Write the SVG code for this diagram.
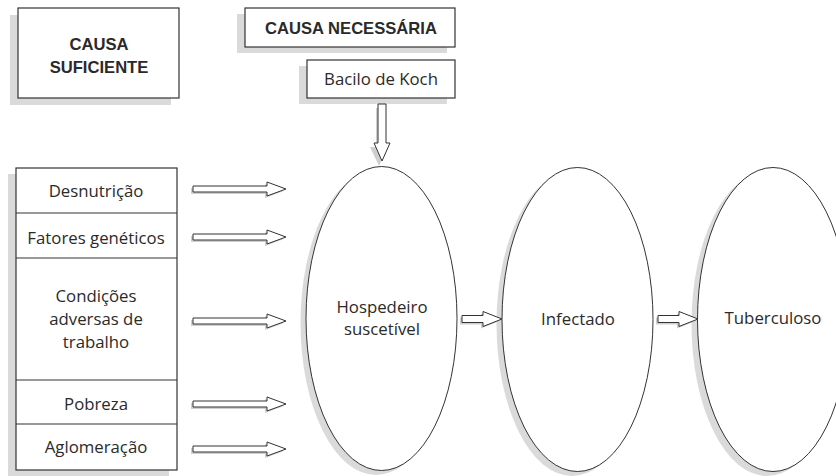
<svg xmlns="http://www.w3.org/2000/svg" xmlns:xlink="http://www.w3.org/1999/xlink" width="836" height="476" viewBox="0 0 836 476">
<style>
.box{fill:#fff;stroke:#333;stroke-width:1.2}
.el{fill:#fff;stroke:#333;stroke-width:1}
.sh{fill:#dadada;stroke:none}
.t{font-family:"Open Sans","Liberation Sans",sans-serif;font-size:16.8px;fill:#2a2a2a;text-anchor:middle}
.b{font-family:"Liberation Sans",Arial,sans-serif;font-size:16.6px;font-weight:bold;fill:#2a2a2a;text-anchor:middle}
.arr{fill:#fff;stroke:#333;stroke-width:1}
.ash{fill:#cfcfcf;stroke:none}
</style>
<defs>
<polygon id="ra" points="0,-3 74,-3 74,-7 93,0 74,7 74,3 0,3"/>
<polygon id="sa" points="0,-3.5 21,-3.5 21,-7.5 40,0 21,7.5 21,3.5 0,3.5"/>
</defs>
<rect width="836" height="476" fill="#fff"/>

<g id="causa-suficiente">
<rect class="sh" x="10" y="15" width="161" height="90"/>
<rect class="box" x="18" y="8" width="161" height="90"/>
<text class="b" x="99" y="50">CAUSA</text>
<text class="b" x="99" y="73">SUFICIENTE</text>
</g>

<g id="causa-necessaria">
<rect class="sh" x="237" y="14" width="210" height="39"/>
<rect class="box" x="245" y="8" width="210" height="39"/>
<text class="b" x="351" y="34">CAUSA NECESSÁRIA</text>
</g>

<g id="bacilo">
<rect class="sh" x="299" y="66" width="148" height="38"/>
<rect class="box" x="307" y="60" width="148" height="38"/>
<text class="t" x="381" y="85">Bacilo de Koch</text>
</g>

<g id="fatores">
<rect class="sh" x="8" y="174" width="161" height="302"/>
<rect class="box" x="16" y="168" width="161" height="302"/>
<line x1="16" y1="213" x2="177" y2="213" stroke="#333" stroke-width="1.2"/>
<line x1="16" y1="258" x2="177" y2="258" stroke="#333" stroke-width="1.2"/>
<line x1="16" y1="380" x2="177" y2="380" stroke="#333" stroke-width="1.2"/>
<line x1="16" y1="424" x2="177" y2="424" stroke="#333" stroke-width="1.2"/>
<text class="t" x="96" y="197">Desnutrição</text>
<text class="t" x="96" y="244">Fatores genéticos</text>
<text class="t" x="96" y="302">Condições</text>
<text class="t" x="96" y="325">adversas de</text>
<text class="t" x="96" y="348">trabalho</text>
<text class="t" x="96" y="410">Pobreza</text>
<text class="t" x="96" y="453">Aglomeração</text>
</g>

<g id="hospedeiro">
<ellipse class="sh" cx="376" cy="323" rx="75.5" ry="152"/>
<ellipse class="el" cx="381.5" cy="318.5" rx="75.5" ry="152"/>
<text class="t" x="382" y="313">Hospedeiro</text>
<text class="t" x="382" y="335">suscetível</text>
</g>

<g id="infectado">
<ellipse class="sh" cx="572" cy="324" rx="75.5" ry="152"/>
<ellipse class="el" cx="577.5" cy="319.5" rx="75.5" ry="152"/>
<text class="t" x="578" y="325">Infectado</text>
</g>

<g id="tuberculoso">
<ellipse class="sh" cx="767" cy="324" rx="75.5" ry="152"/>
<ellipse class="el" cx="773" cy="319.5" rx="75.5" ry="152"/>
<text class="t" x="773" y="324">Tuberculoso</text>
</g>

<g id="connectors">
<polygon class="ash" points="376,108 384,108 384,147 388,147 379,166 370,147 376,147"/>
<polygon class="arr" points="378,104 386,104 386,143 390,143 382,161 374,143 378,143"/>
<use xlink:href="#ra" class="ash" x="191" y="191"/>
<use xlink:href="#ra" class="arr" x="193" y="189"/>
<use xlink:href="#ra" class="ash" x="191" y="239"/>
<use xlink:href="#ra" class="arr" x="193" y="237"/>
<use xlink:href="#ra" class="ash" x="191" y="323"/>
<use xlink:href="#ra" class="arr" x="193" y="321"/>
<use xlink:href="#ra" class="ash" x="191" y="406"/>
<use xlink:href="#ra" class="arr" x="193" y="404"/>
<use xlink:href="#ra" class="ash" x="191" y="451"/>
<use xlink:href="#ra" class="arr" x="193" y="449"/>
<use xlink:href="#sa" class="ash" x="460" y="321"/>
<use xlink:href="#sa" class="arr" x="462" y="319"/>
<use xlink:href="#sa" class="ash" x="656" y="321"/>
<use xlink:href="#sa" class="arr" x="658" y="319"/>
</g>
</svg>
